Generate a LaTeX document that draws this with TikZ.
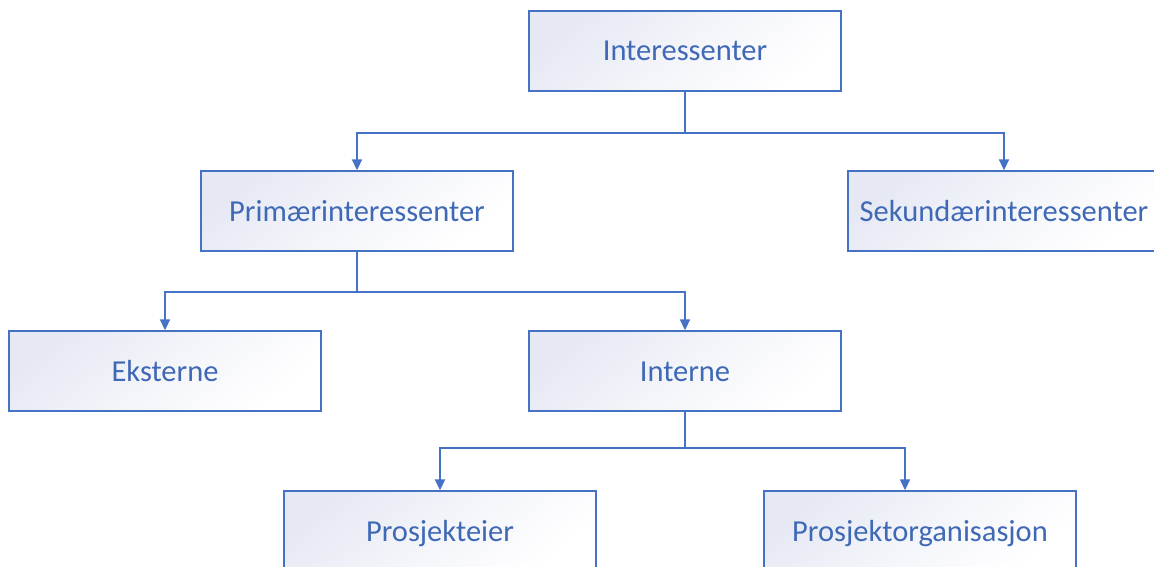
\documentclass[tikz,border=0pt]{standalone}
\usepackage{fontspec}
\setmainfont{Carlito}
\usetikzlibrary{arrows.meta,calc}
\definecolor{accent}{HTML}{4472C4}
\definecolor{label}{HTML}{3F68B5}
\definecolor{boxtint}{HTML}{E6E9F4}
\tikzset{
  box/.style={draw=accent, line width=1.4pt, shading=axis, top color=boxtint,
    bottom color=white, middle color=boxtint!45!white, shading angle=40,
    minimum width=312pt, minimum height=80pt,
    inner sep=0pt, text=label, font=\fontsize{30.5pt}{34pt}\selectfont,
    text height=20pt, text depth=0pt},
  link/.style={draw=accent, line width=1.8pt},
  arrowlink/.style={link, -{Triangle[width=10pt,length=11pt]}}
}
\begin{document}
\begin{tikzpicture}[x=1pt,y=-1pt]
  \path[use as bounding box, clip] (0,0) rectangle (1154,567);
  \fill[white] (0,0) rectangle (1154,567);

  % boxes
  \node[box] (top)  at (685,51)  {Interessenter};
  \node[box] (prim) at (357,211) {Primærinteressenter};
  \node[box] (sek)  at (1004,211) {Sekundærinteressenter};
  \node[box] (eks)  at (165,371) {Eksterne};
  \node[box] (int)  at (685,371) {Interne};
  \node[box] (pe)   at (440,531) {Prosjekteier};
  \node[box] (po)   at (920,531) {Prosjektorganisasjon};

  % branch points
  \coordinate (j1) at ($(top.south)+(0,41)$);
  \coordinate (j2) at ($(prim.south)+(0,40)$);
  \coordinate (j3) at ($(int.south)+(0,36)$);
  \coordinate (poin) at ($(po.north)+(-15,0)$);

  % connectors
  \draw[link] (top.south) -- (j1);
  \draw[arrowlink] (j1) -| (prim.north);
  \draw[arrowlink] (j1) -| (sek.north);

  \draw[link] (prim.south) -- (j2);
  \draw[arrowlink] (j2) -| (eks.north);
  \draw[arrowlink] (j2) -| (int.north);

  \draw[link] (int.south) -- (j3);
  \draw[arrowlink] (j3) -| (pe.north);
  \draw[arrowlink] (j3) -| (poin);
\end{tikzpicture}
\end{document}
